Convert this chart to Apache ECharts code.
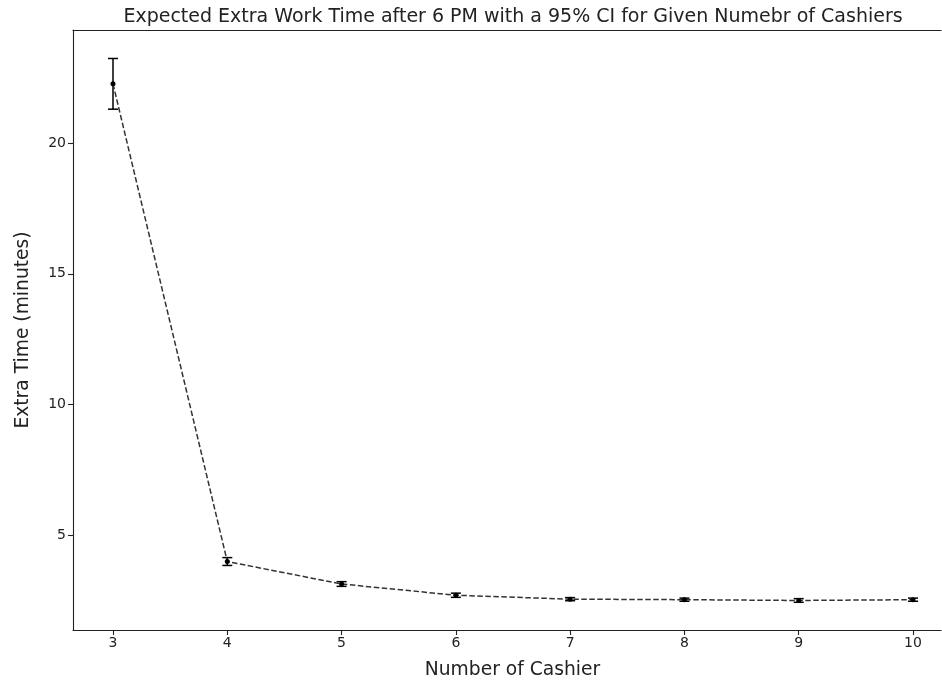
<!DOCTYPE html>
<html>
<head>
<meta charset="utf-8">
<title>Extra Work Time</title>
<script src="https://cdn.jsdelivr.net/npm/echarts@6/dist/echarts.min.js"></script>
<style>
  html, body { margin: 0; padding: 0; background: #fff; }
  #chart { width: 942px; height: 685px; }
</style>
</head>
<body>
<div id="chart"></div>
<script>
// number of cashiers
const cashiers = [3, 4, 5, 6, 7, 8, 9, 10]
// mean extra time (minutes)
const meanTime = [22.27, 3.99, 3.13, 2.70, 2.55, 2.53, 2.50, 2.53]
// half width of the 95% CI
const ciHalf = [0.97, 0.15, 0.09, 0.08, 0.06, 0.06, 0.07, 0.06]
const xTicks = [3, 4, 5, 6, 7, 8, 9, 10]
const yTicks = [5, 10, 15, 20]

const font = 'DejaVu Sans'
const textColor = '#222'
const chart = echarts.init(document.getElementById('chart'))

const lineData = cashiers.map((c, i) => [c, meanTime[i]])
const errData = cashiers.map((c, i) => [c, meanTime[i] - ciHalf[i], meanTime[i] + ciHalf[i]])

// error bar with caps
const renderErr = (params, api) => {
  const lo = api.coord([api.value(0), api.value(1)])
  const hi = api.coord([api.value(0), api.value(2)])
  const cap = 5
  const style = { stroke: '#000', lineWidth: 1.5 }
  return {
    type: 'group',
    children: [
      { type: 'line', shape: { x1: lo[0], y1: lo[1], x2: hi[0], y2: hi[1] }, style },
      { type: 'line', shape: { x1: lo[0] - cap, y1: lo[1], x2: lo[0] + cap, y2: lo[1] }, style },
      { type: 'line', shape: { x1: hi[0] - cap, y1: hi[1], x2: hi[0] + cap, y2: hi[1] }, style }
    ]
  }
}

const spine = { color: '#222', width: 1.1 }

const option = {
  animation: false,
  backgroundColor: '#fff',
  textStyle: { fontFamily: font },
  title: {
    text: 'Expected Extra Work Time after 6 PM with a 95% CI for Given Numebr of Cashiers',
    left: 508,
    textAlign: 'center',
    top: 3,
    textStyle: { fontFamily: font, fontSize: 19, fontWeight: 'normal', color: textColor }
  },
  grid: {
    left: 73,
    right: 1,
    top: 30,
    bottom: 54
  },
  xAxis: [
    {
      type: 'value',
      min: 2.65,
      max: 10.245,
      name: 'Number of Cashier',
      nameLocation: 'middle',
      nameGap: 31,
      nameTextStyle: { fontFamily: font, fontSize: 18.7, color: textColor, padding: [0, 0, 0, 11] },
      axisLine: { show: true, onZero: false, lineStyle: spine },
      axisTick: { show: true, length: 5, customValues: xTicks, lineStyle: spine },
      axisLabel: { customValues: xTicks, fontFamily: font, fontSize: 14, color: textColor, margin: 6 },
      splitLine: { show: false }
    },
    {
      // top spine only
      type: 'value',
      position: 'top',
      min: 2.65,
      max: 10.245,
      axisLine: { show: true, onZero: false, lineStyle: spine },
      axisTick: { show: false },
      axisLabel: { show: false },
      splitLine: { show: false }
    }
  ],
  yAxis: {
    type: 'value',
    min: 1.37,
    max: 24.33,
    name: 'Extra Time (minutes)',
    nameLocation: 'middle',
    nameGap: 40,
    nameTextStyle: { fontFamily: font, fontSize: 18.7, color: textColor },
    axisLine: { show: true, onZero: false, lineStyle: spine },
    axisTick: { show: true, length: 5, customValues: yTicks, lineStyle: spine },
    axisLabel: { customValues: yTicks, fontFamily: font, fontSize: 14, color: textColor, margin: 7 },
    splitLine: { show: false }
  },
  series: [
    {
      type: 'line',
      data: lineData,
      symbol: 'circle',
      symbolSize: 5,
      itemStyle: { color: '#000' },
      lineStyle: { color: '#333', width: 1.5, type: [5.5, 2.5] }
    },
    {
      type: 'custom',
      data: errData,
      renderItem: renderErr,
      encode: { x: 0, y: [1, 2] },
      z: 3
    }
  ]
}

chart.setOption(option)
</script>
</body>
</html>
